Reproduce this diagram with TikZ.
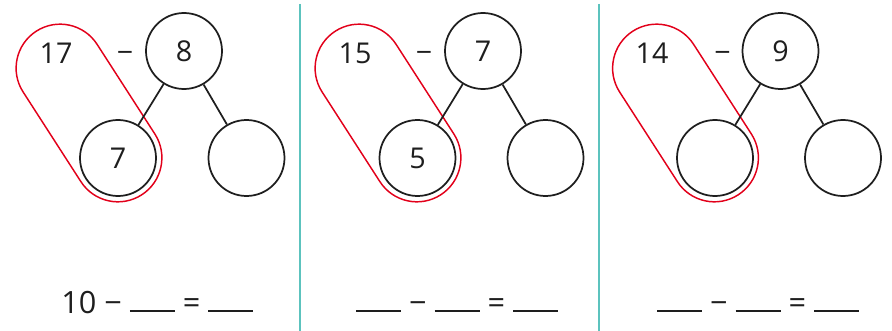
\documentclass[tikz,border=0pt]{standalone}
\usepackage{fontspec}
\setmainfont{Open Sans}
\usepackage{xcolor}
\usepackage{tikz}
\usetikzlibrary{positioning}

\definecolor{loopred}{RGB}{226,0,26}
\definecolor{divteal}{RGB}{92,195,190}
\definecolor{inkgray}{RGB}{30,30,30}
\newcommand{\gap}{\rule[0.7pt]{33.75pt}{1.3pt}}

\begin{document}
\begin{tikzpicture}[
        x=0.75pt,
        y=-0.75pt,
        every node/.style={
            font=\fontsize{21.5}{25}\selectfont,
            text=inkgray,
            inner sep=0pt
        },
        numcircle/.style={
            circle,
            draw=inkgray,
            line width=1.3pt,
            minimum size=57pt
        },
        loopband/.style={
            rectangle,
            draw=loopred,
            line width=1.1pt,
            rounded corners=33pt,
            minimum width=146pt,
            minimum height=66pt,
            rotate=-57.2
        },
        branch/.style={
            draw=inkgray,
            line width=1.3pt
        },
        sign/.style={
            anchor=base
        },
        equation/.style={
            font=\fontsize{23}{27}\selectfont,
            anchor=base west
        },
        divider/.style={
            draw=divteal,
            line width=1.6pt
        }
    ]

    \useasboundingbox (0,0) rectangle (892,331);

    % first task
    \node[loopband] (loop1) at (89,113) {};
    \node[numcircle] (sub1) at (184,51) {8};
    \node[numcircle] (left1) at (118,158) {7};
    \node[numcircle] (right1) at (246.5,158) {};
    \node (start1) at (56,53) {17};
    \node[sign] (minus1) at (125,63) {−};
    \draw[branch] (sub1) -- (left1);
    \draw[branch] (sub1) -- (right1);
    \node[equation] (eq1) at (61,313) {10 − \gap{} = \gap};

    % second task
    \node[loopband] (loop2) at (388,113) {};
    \node[numcircle] (sub2) at (483,51) {7};
    \node[numcircle] (left2) at (417.5,158) {5};
    \node[numcircle] (right2) at (545.5,158) {};
    \node (start2) at (355,53) {15};
    \node[sign] (minus2) at (424,63) {−};
    \draw[branch] (sub2) -- (left2);
    \draw[branch] (sub2) -- (right2);
    \node[equation] (eq2) at (356,313) {\gap{} − \gap{} = \gap};

    % third task
    \node[loopband] (loop3) at (685.5,113) {};
    \node[numcircle] (sub3) at (780.5,51) {9};
    \node[numcircle] (left3) at (715,158) {};
    \node[numcircle] (right3) at (843,158) {};
    \node (start3) at (652,53) {14};
    \node[sign] (minus3) at (722.5,63) {−};
    \draw[branch] (sub3) -- (left3);
    \draw[branch] (sub3) -- (right3);
    \node[equation] (eq3) at (657,313) {\gap{} − \gap{} = \gap};

    \draw[divider] (300,4) -- (300,331);
    \draw[divider] (599,4) -- (599,331);

\end{tikzpicture}
\end{document}
